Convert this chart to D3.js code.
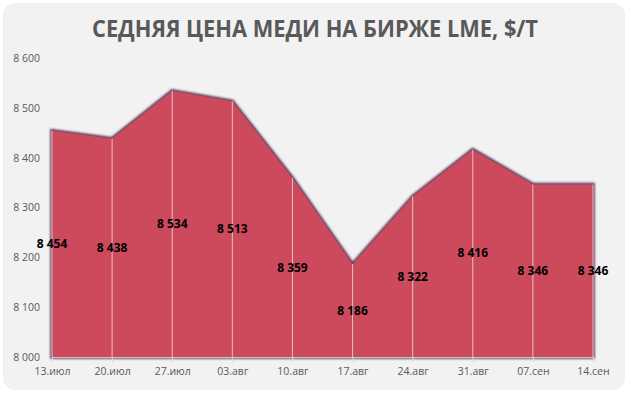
<!DOCTYPE html>
<html>
<head>
<meta charset="utf-8">
<script src="https://cdn.jsdelivr.net/npm/d3@7"></script>
<style>
  body { margin: 0; background: #ffffff; }
  svg text { font-family: "Open Sans", "DejaVu Sans", sans-serif; }
</style>
</head>
<body>
<div class="data_figure"></div>
<script>
const dates = ["13.июл", "20.июл", "27.июл", "03.авг", "10.авг", "17.авг", "24.авг", "31.авг", "07.сен", "14.сен"];
const prices = [8454, 8438, 8534, 8513, 8359, 8186, 8322, 8416, 8346, 8346];
const yTicks = [8000, 8100, 8200, 8300, 8400, 8500, 8600];
const titleStr = "СЕДНЯЯ ЦЕНА МЕДИ НА БИРЖЕ LME, $/T";

const widthMax = 631;
const heightMax = 394;
const margin = { top: 58, bottom: 37, left: 52, right: 38 };

const fmt = (v) => d3.format(",")(v).replace(/,/g, " ");

const svg = d3.select(".data_figure")
    .append("svg")
    .attr("width", widthMax)
    .attr("height", heightMax);

const defs = svg.append("defs");
const shadow = defs.append("filter")
    .attr("id", "edge")
    .attr("x", "-5%").attr("y", "-5%")
    .attr("width", "110%").attr("height", "110%");
shadow.append("feGaussianBlur").attr("stdDeviation", 1.2);

// panel
svg.append("rect")
    .attr("x", 3).attr("y", 3)
    .attr("width", 622).attr("height", 387)
    .attr("rx", 12).attr("ry", 12)
    .attr("fill", "#f2f2f2");

svg.append("text")
    .attr("x", 315)
    .attr("y", 37)
    .attr("text-anchor", "middle")
    .attr("font-size", "24px")
    .attr("font-weight", "bold")
    .attr("fill", "#595959")
    .attr("textLength", 446)
    .attr("lengthAdjust", "spacingAndGlyphs")
    .text(titleStr);

const x = d3.scalePoint()
    .domain(dates)
    .range([margin.left, widthMax - margin.right]);

const y = d3.scaleLinear()
    .domain([8000, 8600])
    .range([heightMax - margin.bottom, margin.top]);

const area = d3.area()
    .x((d, i) => x(dates[i]))
    .y0(y(8000))
    .y1((d) => y(d));

// soft dark edge round the area
svg.append("path")
    .datum(prices)
    .attr("d", area)
    .attr("fill", "none")
    .attr("stroke", "#5e3556")
    .attr("stroke-width", 3.5)
    .attr("filter", "url(#edge)");

svg.append("path")
    .datum(prices)
    .attr("d", area)
    .attr("fill", "#cd4a5c");

// drop lines
svg.append("g")
    .selectAll("line")
    .data(prices)
    .enter()
    .append("line")
    .attr("x1", (d, i) => x(dates[i]))
    .attr("x2", (d, i) => x(dates[i]))
    .attr("y1", (d) => y(d))
    .attr("y2", y(8000))
    .attr("stroke", "#e6c0c6")
    .attr("stroke-width", 1);

// axes
const yAxis = svg.append("g")
    .attr("transform", "translate(" + (margin.left - 9) + ",0)")
    .call(d3.axisLeft(y).tickValues(yTicks).tickFormat(fmt).tickSize(0));
yAxis.select(".domain").remove();
yAxis.selectAll("text")
    .attr("font-size", "10.5px")
    .attr("fill", "#595959")
    .attr("font-family", "'Open Sans', sans-serif");

const xAxis = svg.append("g")
    .attr("transform", "translate(0," + y(8000) + ")")
    .call(d3.axisBottom(x).tickSize(5).tickPadding(6));
xAxis.select(".domain").attr("stroke", "#c8c8c8");
xAxis.selectAll(".tick line").attr("stroke", "#d9d9d9");
xAxis.selectAll("text")
    .attr("font-size", "10.5px")
    .attr("fill", "#595959")
    .attr("font-family", "'Open Sans', sans-serif");

// data labels at half height
svg.append("g")
    .selectAll("text")
    .data(prices)
    .enter()
    .append("text")
    .attr("x", (d, i) => x(dates[i]))
    .attr("y", (d) => y((d + 8000) / 2) + 4)
    .attr("text-anchor", "middle")
    .attr("font-size", "12px")
    .attr("font-weight", "bold")
    .attr("fill", "#000000")
    .text(fmt);
</script>
</body>
</html>
